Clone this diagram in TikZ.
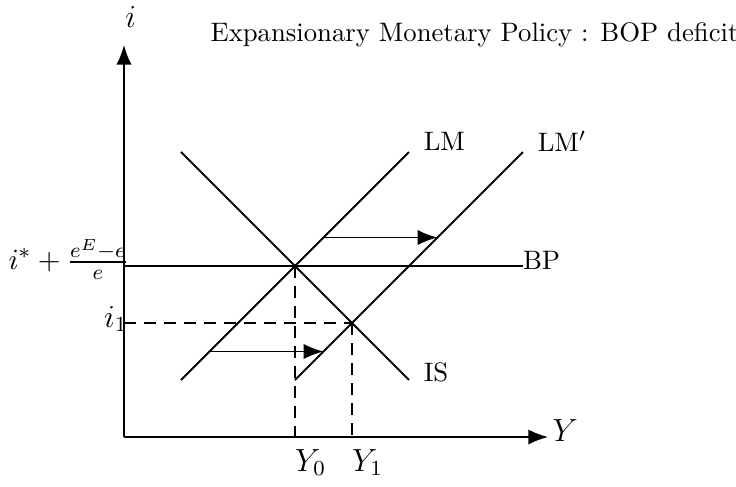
\documentclass[tikz,border=0pt]{standalone}
\usepackage{amsmath,amssymb}
\usetikzlibrary{arrows.meta,positioning}

\begin{document}
\begin{tikzpicture}[x=0.75cm,y=0.75cm,
  curve/.style={line width=0.7pt},
  guide/.style={line width=0.7pt,dash pattern=on 4.5pt off 3pt},
  axis/.style={line width=0.7pt,-{Latex[length=2.6mm,width=2mm]}},
  moveto/.style={line width=0.7pt,-{Latex[length=2.6mm,width=2mm]}}]
\useasboundingbox (-2.175,-0.86) rectangle (10.737,7.667);

% axes
\coordinate (o) at (0,0);
\coordinate (ytop) at (0,6.88);
\coordinate (xend) at (7.44,0);
\draw[axis] (o) -- (ytop);
\draw[axis] (o) -- (xend);
\node (ilab) at (0.12,7.37) {\large $i$};
\node (ylab) at (7.74,0.12) {\large $Y$};

% curves
\coordinate (lm0) at (1,1);   \coordinate (lm1) at (5,5);
\coordinate (lmp0) at (3,1);  \coordinate (lmp1) at (7,5);
\coordinate (is0) at (1,5);   \coordinate (is1) at (5,1);
\coordinate (bp0) at (0,3);   \coordinate (bp1) at (7,3);
\draw[curve] (lm0) -- (lm1);
\draw[curve] (lmp0) -- (lmp1);
\draw[curve] (is0) -- (is1);
\draw[curve] (bp0) -- (bp1);
\node[right=2pt of lm1,yshift=4pt] (lmlab) {LM};
\node[right=2pt of lmp1,yshift=4pt] (lmplab) {LM$'$};
\node[right=2pt of is1,yshift=3pt] (islab) {IS};
\node[right=-3.5pt of bp1,yshift=2pt] (bplab) {BP};

% equilibria
\coordinate (e0) at (3,3);
\coordinate (e1) at (4,2);
\coordinate (y0) at (3,0);
\coordinate (y1) at (4,0);
\coordinate (i1) at (0,2);
\draw[guide] (e0) -- (y0);
\draw[guide] (e1) -- (y1);
\draw[guide] (i1) -- (e1);
\node[below right=1pt and -3.5pt of y0] (y0lab) {\large $Y_0$};
\node[below right=1pt and -3.5pt of y1] (y1lab) {\large $Y_1$};
\node[left=-2.5pt of i1,yshift=1.5pt,inner sep=1pt] (i1lab) {\large $i_1$};
\node[left=-3pt of bp0,yshift=2.5pt,inner sep=1pt,font=\fontsize{11.3pt}{13pt}\selectfont] (istar) {$i^*+\frac{e^E-e}{e}$};

% shift of LM
\coordinate (a0) at (3.5,3.5); \coordinate (a1) at (5.5,3.5);
\coordinate (b0) at (1.5,1.5); \coordinate (b1) at (3.5,1.5);
\draw[moveto] (a0) -- (a1);
\draw[moveto] (b0) -- (b1);

\node (title) at (6.15,7.05) {Expansionary Monetary Policy : BOP deficit};
\end{tikzpicture}
\end{document}
